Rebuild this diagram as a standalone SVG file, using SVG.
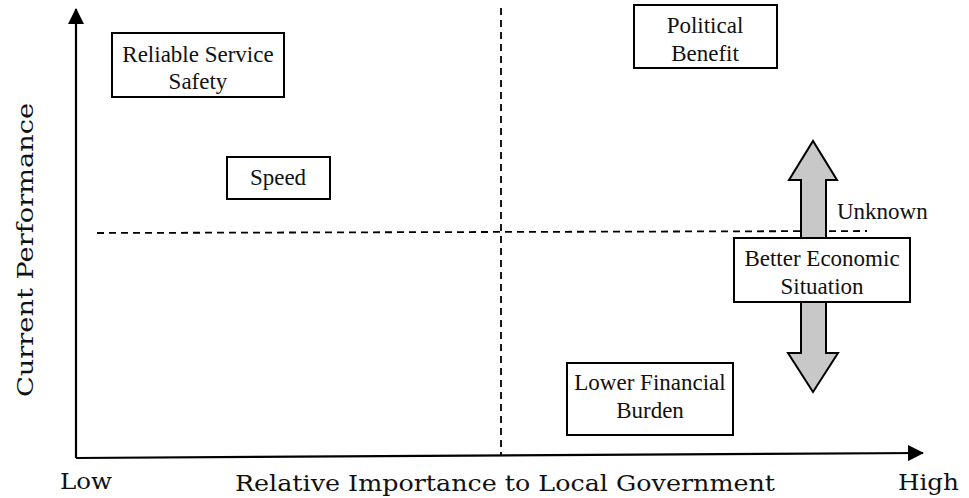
<svg xmlns="http://www.w3.org/2000/svg" width="969" height="498" viewBox="0 0 969 498">
<style>
.box{fill:#fff;stroke:#000;stroke-width:2}
.t{font-family:Liberation Serif, Times New Roman, serif;font-size:23px;fill:#111;text-anchor:middle}
.ax{font-family:DejaVu Serif, Liberation Serif, serif;font-size:22px;fill:#111}
.dash{stroke:#000;stroke-width:1.8;stroke-dasharray:7,5;fill:none}
.arr{fill:#c8c8c8;stroke:#000;stroke-width:2;stroke-linejoin:miter}
</style>
<defs>
<marker id="ahv" markerWidth="16" markerHeight="16" refX="15" refY="8" orient="auto" markerUnits="userSpaceOnUse">
<path d="M0,0 L16,8 L0,16 Z" fill="#000"/>
</marker>
</defs>
<rect width="969" height="498" fill="#fff"/>
<g id="connectors">
<line x1="76" y1="458" x2="76" y2="9" stroke="#000" stroke-width="2.2" marker-end="url(#ahv)"/>
<line x1="76" y1="458" x2="923" y2="453" stroke="#000" stroke-width="2.2" marker-end="url(#ahv)"/>
<line class="dash" x1="501" y1="8" x2="501" y2="456"/>
<line class="dash" x1="97" y1="233" x2="867" y2="231"/>
</g>
<g id="up-arrow">
<path class="arr" d="M801,238 L801,180 L789,180 L813,141 L837,180 L826,180 L826,238"/>
</g>
<g id="down-arrow">
<path class="arr" d="M801,302 L801,353 L788,353 L813,392 L838,353 L826,353 L826,302"/>
</g>
<g id="reliable">
<rect class="box" x="112" y="33" width="172" height="64"/>
<text class="t" x="198" y="62">Reliable Service</text>
<text class="t" x="198" y="89">Safety</text>
</g>
<g id="speed">
<rect class="box" x="227" y="157" width="103" height="42"/>
<text class="t" x="278" y="185">Speed</text>
</g>
<g id="political">
<rect class="box" x="634" y="5" width="143" height="63"/>
<text class="t" x="705" y="33">Political</text>
<text class="t" x="705" y="61">Benefit</text>
</g>
<g id="economic">
<rect class="box" x="734" y="238" width="176" height="64"/>
<text class="t" x="822" y="266">Better Economic</text>
<text class="t" x="822" y="294">Situation</text>
</g>
<g id="financial">
<rect class="box" x="567" y="363" width="166" height="72"/>
<text class="t" x="650" y="390">Lower Financial</text>
<text class="t" x="650" y="418">Burden</text>
</g>
<g id="unknown">
<text class="t" x="837" y="219" style="text-anchor:start">Unknown</text>
</g>
<g id="labels">
<text class="ax" x="60" y="489" textLength="52" lengthAdjust="spacingAndGlyphs">Low</text>
<text class="ax" x="235" y="491" textLength="540" lengthAdjust="spacingAndGlyphs">Relative Importance to Local Government</text>
<text class="ax" x="898" y="490" textLength="61" lengthAdjust="spacingAndGlyphs">High</text>
<text class="ax" transform="translate(33,397) rotate(-90)" x="0" y="0" textLength="294" lengthAdjust="spacingAndGlyphs">Current Performance</text>
</g>
</svg>
